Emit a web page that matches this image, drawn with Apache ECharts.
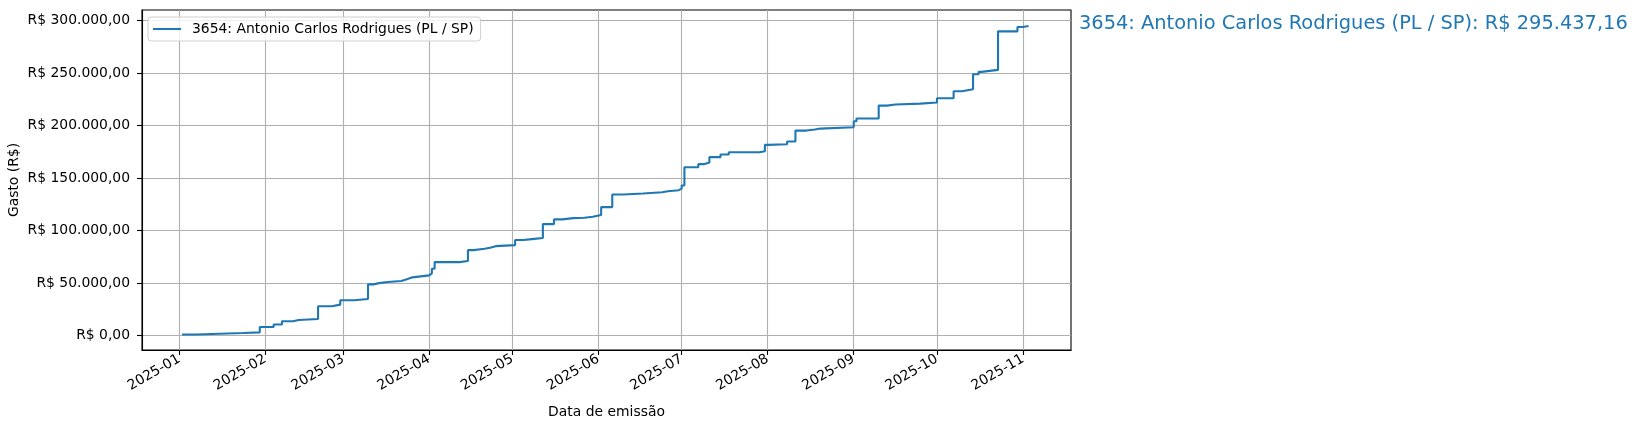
<!DOCTYPE html>
<html>
<head>
<meta charset="utf-8">
<script src="https://cdn.jsdelivr.net/npm/echarts@6/dist/echarts.min.js"></script>
<style>
html,body{margin:0;padding:0;background:#fff;}
#chart{width:1641px;height:430px;}
</style>
</head>
<body>
<div id="chart"></div>
<script>
// ---- data ----
const seriesName = '3654: Antonio Carlos Rodrigues (PL / SP)';
const dates = [
  '2025-01-02','2025-01-07','2025-01-24','2025-01-30','2025-02-04','2025-02-07','2025-02-11','2025-02-13',
  '2025-02-20','2025-02-25','2025-02-28','2025-03-05','2025-03-10','2025-03-12','2025-03-14','2025-03-17',
  '2025-03-22','2025-03-24','2025-03-26','2025-04-01','2025-04-02','2025-04-03','2025-04-12','2025-04-15',
  '2025-04-17','2025-04-21','2025-04-23','2025-04-25','2025-05-02','2025-05-05','2025-05-08','2025-05-12',
  '2025-05-16','2025-05-19','2025-05-23','2025-05-27','2025-05-30','2025-06-02','2025-06-06','2025-06-10',
  '2025-06-17','2025-06-24','2025-06-26','2025-06-30','2025-07-01','2025-07-02','2025-07-07','2025-07-09',
  '2025-07-11','2025-07-15','2025-07-18','2025-07-29','2025-07-31','2025-08-01','2025-08-08','2025-08-11',
  '2025-08-15','2025-08-18','2025-08-20','2025-09-01','2025-09-02','2025-09-10','2025-09-13','2025-09-16',
  '2025-09-25','2025-10-01','2025-10-07','2025-10-10','2025-10-14','2025-10-16','2025-10-17','2025-10-23',
  '2025-10-30','2025-11-01','2025-11-03'
];
const values = [
  1000, 2500, 3100, 8200, 10500, 13600, 14800, 15800,
  27900, 29500, 33600, 34800, 48800, 50000, 51000, 52000,
  53600, 55500, 57400, 59300, 63700, 70000, 71000, 81400,
  82700, 83700, 85200, 86200, 91000, 91900, 92900, 106200,
  110700, 111900, 112300, 113200, 114800, 122400, 134400, 135400,
  136500, 137500, 138500, 140000, 143000, 160400, 163300, 164900,
  170000, 172500, 174700, 175600, 181700, 182300, 184900, 195300,
  196300, 197200, 198500, 204200, 206800, 219100, 220100, 221000,
  222000, 226100, 232700, 234600, 248900, 251200, 253100, 289800,
  294000, 295000, 295437.16
];
const yTicks = [0, 50000, 100000, 150000, 200000, 250000, 300000];
const xTicks = ['2025-01','2025-02','2025-03','2025-04','2025-05','2025-06','2025-07','2025-08','2025-09','2025-10','2025-11'];
const xRange = ['2024-12-18T13:30', '2025-11-18T07:00'];
const xTitle = 'Data de emissão';
const yTitle = 'Gasto (R$)';

// ---- helpers ----
function toTs(s){
  const [d, t] = s.split('T');
  const p = d.split('-').map(Number);
  const h = t ? t.split(':').map(Number) : [0, 0];
  return Date.UTC(p[0], p[1]-1, p[2]||1, h[0], h[1]);
}
function brl(v){
  const neg = v < 0; v = Math.abs(v);
  const fixed = v.toFixed(2);
  const parts = fixed.split('.');
  const withDots = parts[0].replace(/\B(?=(\d{3})+(?!\d))/g, '.');
  return (neg ? '-' : '') + 'R$ ' + withDots + ',' + parts[1];
}
function pad(n){ return n < 10 ? '0' + n : '' + n; }

const data = dates.map((d, i) => [toTs(d), values[i]]);
const xTickTs = xTicks.map(toTs);
const yMinD = Math.min(...values), yMaxD = Math.max(...values);
const yPad = (yMaxD - yMinD) * 0.05;

const FONT = 'DejaVu Sans';
const BLUE = '#1f77b4';
const GRID = {left: 142, right: 570, top: 10, bottom: 80};

const chart = echarts.init(document.getElementById('chart'), null, {renderer: 'canvas'});
chart.setOption({
  animation: false,
  backgroundColor: '#fff',
  textStyle: {fontFamily: FONT},
  grid: {left: GRID.left, right: GRID.right, top: GRID.top, bottom: GRID.bottom, show: true,
         containLabel: false, outerBoundsMode: 'none',
         borderColor: '#000', borderWidth: 1.1, backgroundColor: 'transparent'},
  legend: {
    show: true, left: 148, top: 17, orient: 'vertical',
    data: [{name: seriesName, icon: 'rect'}],
    itemWidth: 28, itemHeight: 2,
    padding: [5, 7, 5, 5],
    borderColor: '#d0d0d0', borderWidth: 1, borderRadius: 3,
    backgroundColor: 'rgba(255,255,255,0.8)',
    textStyle: {fontFamily: FONT, fontSize: 13.9, color: '#000', padding: [0, 0, 0, 6]}
  },
  xAxis: {
    type: 'value',
    min: toTs(xRange[0]), max: toTs(xRange[1]),
    name: xTitle, nameLocation: 'middle', nameGap: 55, nameMoveOverlap: false,
    nameTextStyle: {fontFamily: FONT, fontSize: 13.9, color: '#000'},
    axisLine: {show: true, onZero: false, lineStyle: {color: '#000', width: 1.1}},
    axisTick: {show: true, inside: false, length: 5, lineStyle: {color: '#000', width: 1.1},
               customValues: xTickTs},
    axisLabel: {show: true, rotate: 30, margin: 8, fontFamily: FONT, fontSize: 13.9, color: '#000',
                customValues: xTickTs,
                formatter: function(v){ const d = new Date(v); return d.getUTCFullYear() + '-' + pad(d.getUTCMonth()+1); }},
    splitLine: {show: true, lineStyle: {color: '#b0b0b0', width: 1.1}}
  },
  yAxis: {
    type: 'value',
    min: yMinD - yPad, max: yMaxD + yPad,
    name: yTitle, nameLocation: 'middle', nameGap: 121, nameRotate: 90, nameMoveOverlap: false,
    nameTextStyle: {fontFamily: FONT, fontSize: 13.9, color: '#000'},
    axisLine: {show: true, onZero: false, lineStyle: {color: '#000', width: 1.1}},
    axisTick: {show: true, inside: false, length: 5, lineStyle: {color: '#000', width: 1.1},
               customValues: yTicks},
    axisLabel: {show: true, margin: 12, fontFamily: FONT, fontSize: 13.9, color: '#000',
                customValues: yTicks, formatter: function(v){ return brl(v); }},
    splitLine: {show: true, lineStyle: {color: '#b0b0b0', width: 1.1}}
  },
  series: [{
    name: seriesName,
    type: 'line',
    step: 'end',
    data: data,
    showSymbol: false,
    symbol: 'none',
    lineStyle: {color: BLUE, width: 2.1},
    itemStyle: {color: BLUE},
    z: 3
  }]
});

// annotation of the final total, placed at the final value's height
const lastVal = values[values.length - 1];
const yPix = chart.convertToPixel({yAxisIndex: 0}, lastVal);
const rightEdge = 1641 - GRID.right;
chart.setOption({
  graphic: [{
    type: 'text', left: rightEdge + 8, top: yPix - 11,
    style: {text: seriesName + ': ' + brl(lastVal), fill: BLUE, font: '19.4px "DejaVu Sans"',
            textVerticalAlign: 'top'}
  }]
});
</script>
</body>
</html>
